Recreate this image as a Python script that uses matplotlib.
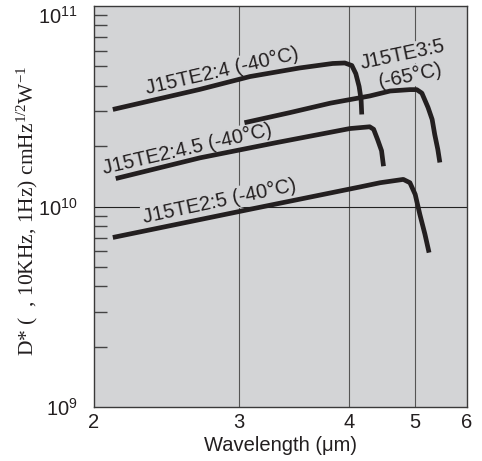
# -*- coding: utf-8 -*-
"""Detectivity vs wavelength, J15TE series (log D*, hand-scaled wavelength axis)."""
import numpy as np
import matplotlib; matplotlib.use("Agg")
import matplotlib.pyplot as plt
from matplotlib.ticker import FixedLocator, NullFormatter, LogLocator

plt.rcParams["font.family"] = ["Liberation Sans", "DejaVu Sans"]

# ---- data ----
wl_24 = [2.13, 2.73, 3.10, 3.55, 3.85, 3.96, 4.04, 4.10, 4.15, 4.18, 4.19]
d_24 = [3.05e10, 3.84e10, 4.45e10, 4.91e10, 5.17e10, 5.20e10, 5.05e10, 4.60e10, 3.97e10, 3.42e10, 2.88e10]
wl_35 = [3.05, 3.46, 3.83, 4.31, 4.62, 4.92, 5.03, 5.13, 5.25, 5.33, 5.38, 5.44, 5.48]
d_35 = [2.62e10, 2.94e10, 3.28e10, 3.56e10, 3.77e10, 3.83e10, 3.83e10, 3.68e10, 3.12e10, 2.72e10, 2.29e10, 1.93e10, 1.66e10]
wl_245 = [2.15, 2.73, 3.33, 4.01, 4.31, 4.37, 4.43, 4.49, 4.52]
d_245 = [1.38e10, 1.75e10, 2.08e10, 2.45e10, 2.50e10, 2.43e10, 2.16e10, 1.90e10, 1.59e10]
wl_25 = [2.13, 3.10, 4.16, 4.47, 4.82, 4.92, 5.00, 5.09, 5.19, 5.27]
d_25 = [7.02e9, 9.70e9, 1.253e10, 1.316e10, 1.367e10, 1.316e10, 1.151e10, 9.16e9, 7.28e9, 5.90e9]
xticks = [2, 3, 4, 5, 6]
# the printed wavelength axis is not linear: where each tick sits (px from left)
tick_px = [0, 145, 255.3, 321.3, 372.7]

BG = "#d3d4d6"; LN = "#231f20"; GR = "#555555"

def fwd(x): return np.interp(x, xticks, tick_px)
def inv(p): return np.interp(p, tick_px, xticks)

fig = plt.figure(figsize=(4.82, 4.61), dpi=100)
ax = fig.add_axes([0.195, 0.1165, 0.773, 0.8705])
ax.set_facecolor(BG)
ax.set_xscale("function", functions=(fwd, inv))
ax.set_yscale("log")
ax.set_xlim(2, 6); ax.set_ylim(1e9, 1e11)

for s in ax.spines.values():
    s.set_color("#3a3a3a"); s.set_linewidth(1.0)

ax.xaxis.set_major_locator(FixedLocator(xticks))
ax.set_xticklabels([str(t) for t in xticks], fontsize=14.5)
ax.tick_params(axis="x", length=0, pad=4, colors="#231f20")
ax.yaxis.set_major_locator(FixedLocator([1e9, 1e10, 1e11]))
ax.set_yticklabels([r"$\mathregular{10^{9}}$", r"$\mathregular{10^{10}}$", r"$\mathregular{10^{11}}$"], fontsize=14.5)
ax.yaxis.set_minor_locator(LogLocator(base=10, subs=np.arange(2, 10)))
ax.yaxis.set_minor_formatter(NullFormatter())
ax.tick_params(axis="y", which="major", direction="in", length=0, pad=12, colors="#231f20")
ax.tick_params(axis="y", which="minor", direction="in", length=9, width=1.0, color="#444444")
ylabs = ax.get_yticklabels()
ylabs[2].set_va("top")
ylabs[0].set_va("center_baseline")

for x in [3, 4, 5]:
    ax.axvline(x, color=GR, lw=0.8, zorder=1)
ax.axhline(1e10, color="#222222", lw=0.8, zorder=1)

for wl, d in [(wl_24, d_24), (wl_35, d_35), (wl_245, d_245), (wl_25, d_25)]:
    ax.plot(wl, d, color=LN, lw=3.4, solid_capstyle="butt", solid_joinstyle="round", zorder=5)

bb = dict(facecolor=BG, edgecolor="none", pad=1.0)
def lab(px, py, s, rot):
    ax.text((px - 94) / 372.7, (407.3 - py) / 401.3, s, transform=ax.transAxes, fontsize=14.5,
            rotation=rot, rotation_mode="anchor", ha="center", va="center", ma="center",
            color="#231f20", bbox=bb, zorder=3)
lab(222, 71, "J15TE2:4 (-40°C)", 13)
lab(187, 149, "J15TE2:4.5 (-40°C)", 13)
lab(220, 201, "J15TE2:5 (-40°C)", 12)
lab(403, 55, "J15TE3:5", 12)
lab(411, 76, "(-65°C)", 12)

ax.set_xlabel("Wavelength (μm)", fontsize=14.5, labelpad=3, color="#231f20")
fig.text(27 / 482, 1 - 211 / 461,
         r"D* (  , 10KHz, 1Hz) cmHz$\mathregular{^{1/2}}$W$\mathregular{^{-1}}$",
         fontsize=15.5, family="Liberation Serif", rotation=90, ha="center", va="center",
         color="#231f20")

fig.savefig("out.png", dpi=100, facecolor="white")
